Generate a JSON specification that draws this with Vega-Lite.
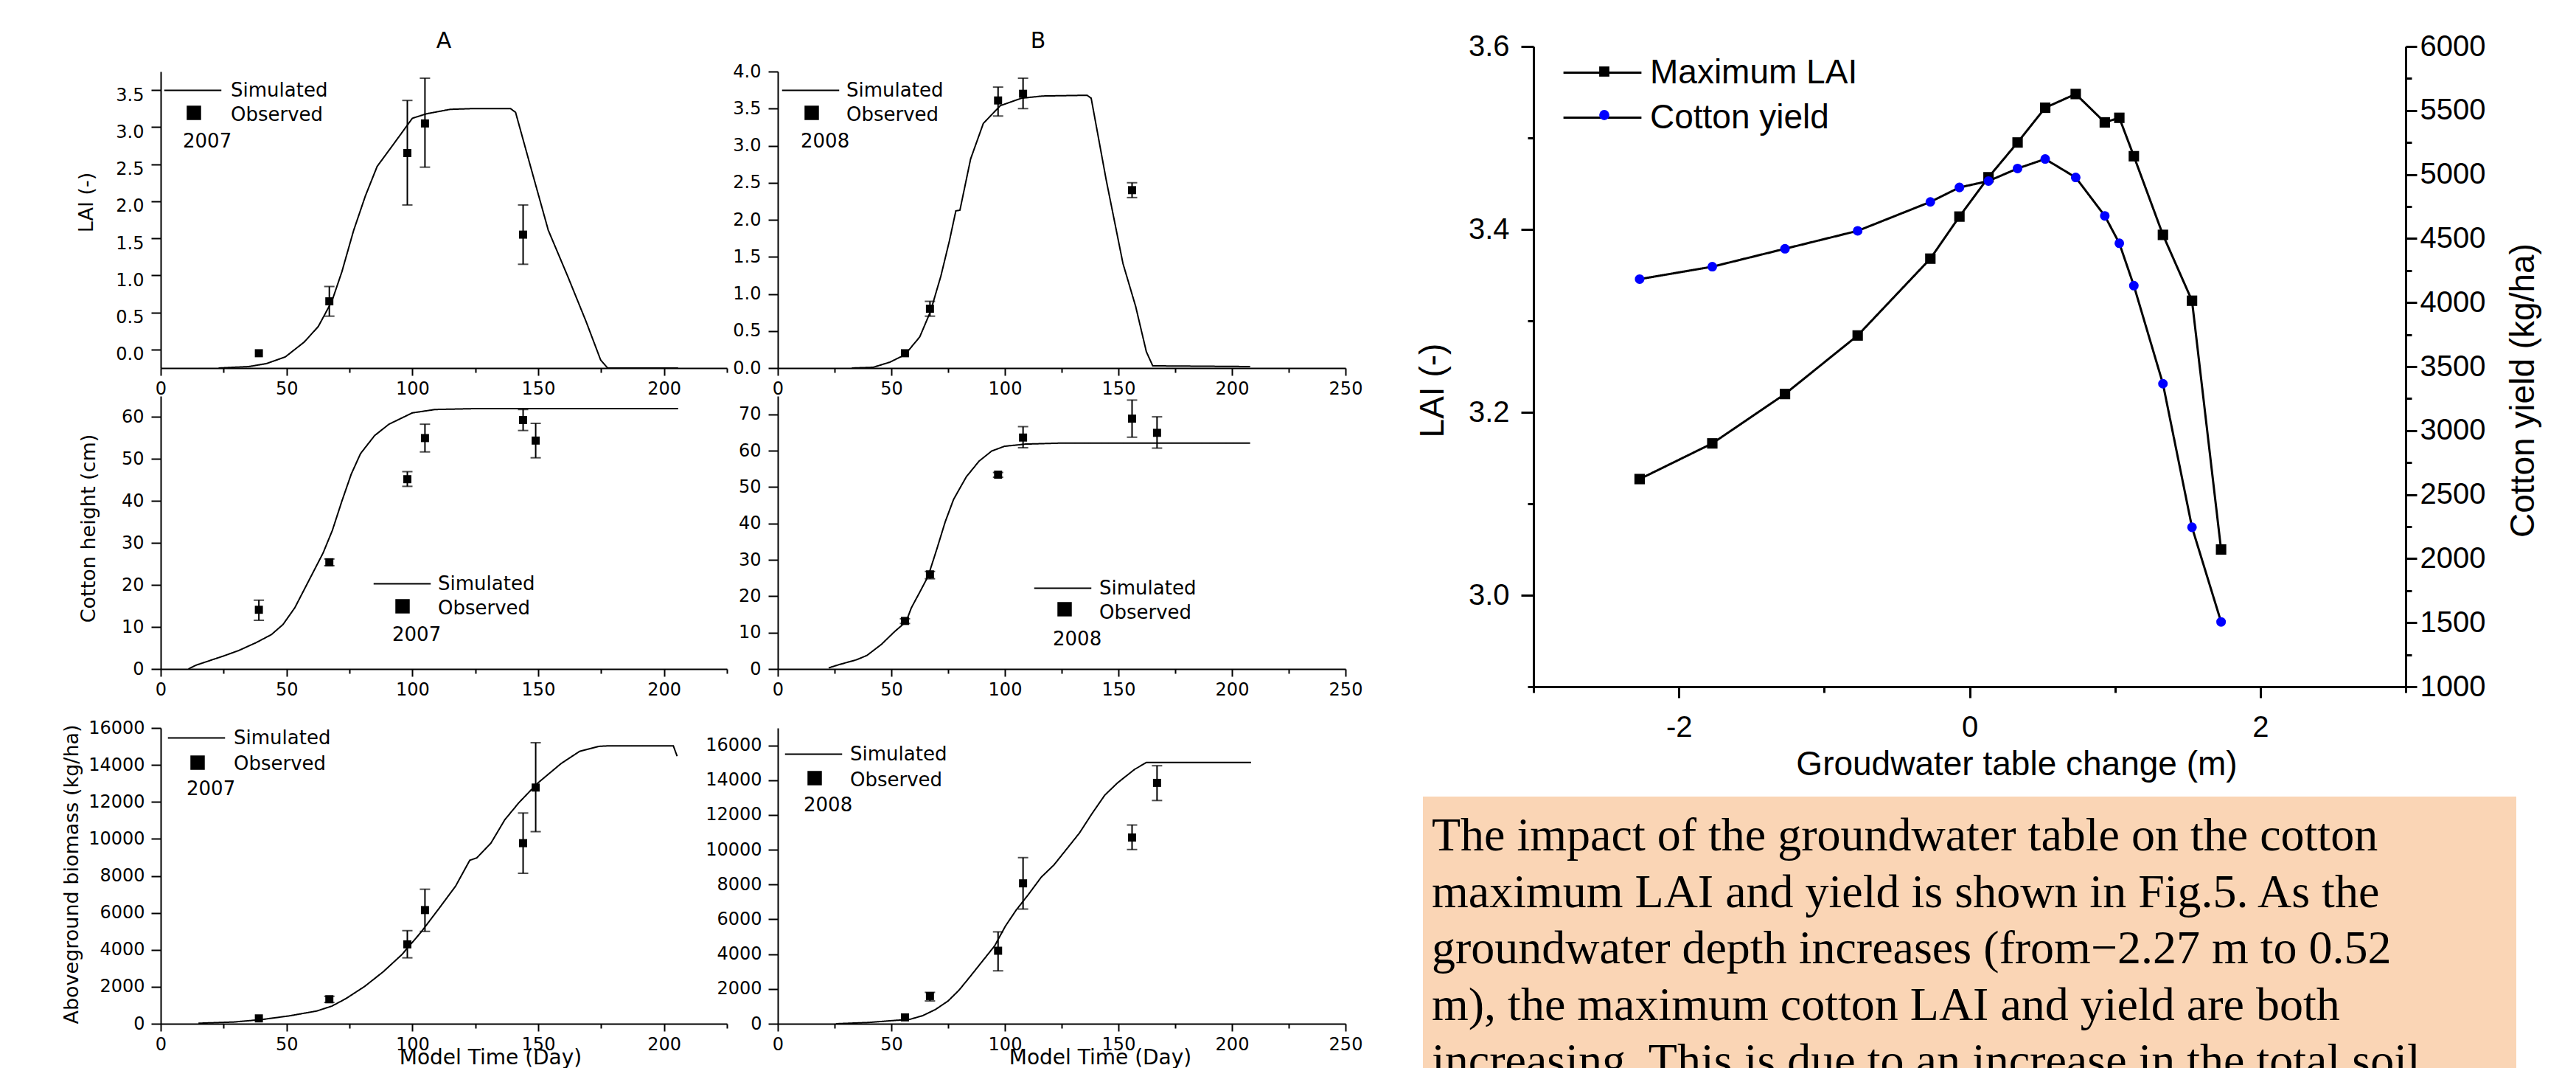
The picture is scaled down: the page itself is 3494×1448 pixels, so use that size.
{
"$schema": "https://vega.github.io/schema/vega-lite/v6.json",
"background": "white",
"padding": {"left": 82, "top": 41, "right": 10, "bottom": 0},
"config": {
 "view": {"stroke": null},
 "axis": {"grid": false, "domainColor": "black", "domainWidth": 2, "tickColor": "black", "tickWidth": 2, "labelColor": "black", "titleColor": "black", "labelFont": "DejaVu Sans", "titleFont": "DejaVu Sans", "labelFontSize": 24, "titleFontSize": 27, "titleFontWeight": "normal", "labelOverlap": false, "labelFlush": false, "labelBound": false},
 "legend": {"labelFont": "DejaVu Sans", "titleFont": "DejaVu Sans", "labelColor": "black", "titleColor": "black", "titleFontWeight": "normal", "labelFontSize": 26, "titleFontSize": 26, "labelLimit": 1000},
 "title": {"font": "DejaVu Sans", "fontSize": 30, "fontWeight": "normal", "color": "black"}
},
"datasets": {
 "a1s": [{"d":23,"v":-0.25},{"d":35,"v":-0.23},{"d":42,"v":-0.19},{"d":49.5,"v":-0.1},{"d":57,"v":0.1},{"d":62.6,"v":0.31},{"d":68,"v":0.65},{"d":72,"v":1.05},{"d":76.6,"v":1.6},{"d":81.3,"v":2.07},{"d":86,"v":2.47},{"d":92.5,"v":2.77},{"d":100,"v":3.12},{"d":105.6,"v":3.18},{"d":115,"v":3.24},{"d":124,"v":3.25},{"d":139,"v":3.25},{"d":141,"v":3.2},{"d":146.7,"v":2.5},{"d":154,"v":1.61},{"d":161.7,"v":0.99},{"d":169,"v":0.38},{"d":174.8,"v":-0.14},{"d":177.6,"v":-0.25},{"d":205.6,"v":-0.25}],
 "a1o": [{"d":39,"v":-0.05},{"d":67,"v":0.65,"lo":0.45,"hi":0.85},{"d":98,"v":2.65,"lo":1.95,"hi":3.36},{"d":105,"v":3.05,"lo":2.46,"hi":3.66},{"d":144,"v":1.55,"lo":1.15,"hi":1.95}],
 "b1s": [{"d":32.6,"v":0},{"d":42,"v":0.01},{"d":49.4,"v":0.08},{"d":56,"v":0.18},{"d":62.5,"v":0.42},{"d":67.2,"v":0.76},{"d":71.8,"v":1.24},{"d":75.6,"v":1.72},{"d":78.4,"v":2.12},{"d":80.2,"v":2.13},{"d":84.9,"v":2.82},{"d":90.5,"v":3.3},{"d":98,"v":3.54},{"d":107.3,"v":3.64},{"d":116.6,"v":3.67},{"d":136.2,"v":3.68},{"d":138,"v":3.64},{"d":144.6,"v":2.54},{"d":152,"v":1.41},{"d":157.6,"v":0.83},{"d":162.3,"v":0.22},{"d":165.1,"v":0.03},{"d":208,"v":0.02}],
 "b1o": [{"d":56,"v":0.2},{"d":67,"v":0.8,"lo":0.7,"hi":0.9},{"d":97,"v":3.61,"lo":3.4,"hi":3.79},{"d":108,"v":3.7,"lo":3.5,"hi":3.91},{"d":156,"v":2.4,"lo":2.3,"hi":2.5}],
 "a2s": [{"d":11,"v":0},{"d":14,"v":0.9},{"d":25,"v":3.1},{"d":31,"v":4.4},{"d":38,"v":6.3},{"d":44,"v":8.2},{"d":48.6,"v":10.6},{"d":53.3,"v":14.6},{"d":58.9,"v":21.1},{"d":64.5,"v":27.6},{"d":68.2,"v":33},{"d":72,"v":40},{"d":75.7,"v":46.4},{"d":79.4,"v":51.3},{"d":85,"v":55.6},{"d":90.7,"v":58.3},{"d":100,"v":61},{"d":109,"v":61.8},{"d":124,"v":62},{"d":205.6,"v":62}],
 "a2o": [{"d":39,"v":14.1,"lo":11.6,"hi":16.4},{"d":67,"v":25.4,"lo":24.6,"hi":26.2},{"d":98,"v":45.2,"lo":43.5,"hi":47},{"d":105,"v":55,"lo":51.7,"hi":58.3},{"d":144,"v":59.3,"lo":56.8,"hi":61.8},{"d":149,"v":54.4,"lo":50.3,"hi":58.5}],
 "b2s": [{"d":22.4,"v":0.3},{"d":27,"v":1.2},{"d":34.5,"v":2.5},{"d":39.2,"v":3.7},{"d":45.7,"v":6.8},{"d":51.3,"v":10.2},{"d":56.5,"v":13},{"d":58.8,"v":16.8},{"d":62.5,"v":21.1},{"d":66.2,"v":25.5},{"d":70,"v":32.9},{"d":73.7,"v":40.4},{"d":77.4,"v":46.6},{"d":83,"v":52.8},{"d":88.6,"v":57.1},{"d":94.2,"v":59.9},{"d":99.8,"v":61.2},{"d":109,"v":61.8},{"d":126,"v":62.1},{"d":208,"v":62.1}],
 "b2o": [{"d":56,"v":13.2,"lo":12.5,"hi":13.8},{"d":67,"v":26,"lo":24.8,"hi":26.8},{"d":97,"v":53.4,"lo":52.7,"hi":54},{"d":108,"v":63.6,"lo":60.8,"hi":66.6},{"d":156,"v":68.8,"lo":63.7,"hi":73.9},{"d":167,"v":64.9,"lo":60.7,"hi":69.3}],
 "a3s": [{"d":15,"v":27},{"d":29,"v":93},{"d":40,"v":225},{"d":51,"v":424},{"d":62,"v":689},{"d":68,"v":954},{"d":73.5,"v":1352},{"d":81,"v":2015},{"d":88.4,"v":2810},{"d":95.8,"v":3738},{"d":103.3,"v":4931},{"d":110.7,"v":6257},{"d":117.2,"v":7450},{"d":122.8,"v":8841},{"d":125.6,"v":8974},{"d":131.2,"v":9769},{"d":136.7,"v":11029},{"d":142.3,"v":11956},{"d":149.8,"v":13017},{"d":159.1,"v":14077},{"d":166.5,"v":14740},{"d":174,"v":15005},{"d":177.7,"v":15032},{"d":203.7,"v":15032},{"d":205.2,"v":14475}],
 "a3o": [{"d":39,"v":290},{"d":67,"v":1326,"lo":1153,"hi":1485},{"d":98,"v":4295,"lo":3566,"hi":5037},{"d":105,"v":6150,"lo":4997,"hi":7277},{"d":144,"v":9769,"lo":8139,"hi":11400},{"d":149,"v":12778,"lo":10392,"hi":15204}],
 "b3s": [{"d":25.6,"v":0},{"d":39.6,"v":70},{"d":50.7,"v":183},{"d":58.2,"v":254},{"d":63.8,"v":465},{"d":69.4,"v":817},{"d":75,"v":1310},{"d":79.7,"v":1915},{"d":84.3,"v":2648},{"d":89.9,"v":3563},{"d":95.5,"v":4479},{"d":100.2,"v":5606},{"d":104.9,"v":6521},{"d":110.4,"v":7437},{"d":116,"v":8423},{"d":121.6,"v":9127},{"d":127.2,"v":10042},{"d":132.8,"v":10958},{"d":138.4,"v":12085},{"d":144,"v":13141},{"d":149.6,"v":13845},{"d":157.1,"v":14620},{"d":162.3,"v":15014},{"d":208.4,"v":15014}],
 "b3o": [{"d":56,"v":366},{"d":67,"v":1592,"lo":1310,"hi":1803},{"d":97,"v":4197,"lo":3042,"hi":5282},{"d":108,"v":8070,"lo":6592,"hi":9549},{"d":156,"v":10704,"lo":10014,"hi":11423},{"d":167,"v":13845,"lo":12831,"hi":14831}],
 "gw": [{"g":-2.27,"lai":3.127,"yield":4183},{"g":-1.77,"lai":3.166,"yield":4280},{"g":-1.27,"lai":3.22,"yield":4420},{"g":-0.77,"lai":3.284,"yield":4560},{"g":-0.27,"lai":3.368,"yield":4786},{"g":-0.07,"lai":3.414,"yield":4899},{"g":0.13,"lai":3.457,"yield":4949},{"g":0.33,"lai":3.495,"yield":5047},{"g":0.52,"lai":3.533,"yield":5121},{"g":0.73,"lai":3.548,"yield":4977},{"g":0.93,"lai":3.517,"yield":4677},{"g":1.03,"lai":3.522,"yield":4463},{"g":1.13,"lai":3.48,"yield":4132},{"g":1.33,"lai":3.394,"yield":3366},{"g":1.53,"lai":3.322,"yield":2245},{"g":1.73,"lai":3.05,"yield":1506}],
 "para": [{"line":1,"text":"The impact of the groundwater table on the cotton"},{"line":2,"text":"\u00a0\u00a0\u00a0\u00a0\u2009maximum LAI and yield is shown in Fig.5. As the"},{"line":3,"text":"\u00a0\u00a0\u00a0\u00a0\u2009groundwater depth increases (from\u22122.27 m to 0.52"},{"line":4,"text":"\u00a0\u00a0\u00a0\u00a0\u2009m), the maximum cotton LAI and yield are both"},{"line":5,"text":"\u00a0\u00a0\u00a0\u00a0\u2009increasing. This is due to an increase in the total soil"}]
},
"hconcat": [
 {"vconcat": [
   {"hconcat": [
     {"width": 768, "height": 34, "data": {"values": []}, "mark": "point", "encoding": {}, "title": {"text": "A", "frame": "group", "font": "DejaVu Sans", "fontSize": 30, "fontWeight": "normal", "color": "black", "dy": 12}},
     {"width": 770, "height": 34, "data": {"values": []}, "mark": "point", "encoding": {}, "title": {"text": "B", "frame": "group", "font": "DejaVu Sans", "fontSize": 30, "fontWeight": "normal", "color": "black", "dy": 12, "dx": -32}}
   ], "spacing": 69, "bounds": "flush"},
   {"vconcat": [
     {"concat": [
       {"width": 768, "height": 402, "layer": [
         {"data": {"name": "a1s"}, "mark": {"type": "line", "color": "black", "strokeWidth": 2},
          "encoding": {
           "x": {"field": "d", "type": "quantitative", "scale": {"domain": [0, 225], "nice": false}, "axis": {"values": [0,25,50,75,100,125,150,175,200,225], "labelExpr": "datum.value % 50 === 0 ? datum.label : ''", "tickSize": {"condition": {"test": "datum.value % 50 === 0", "value": 10}, "value": 6}, "labelPadding": 6, "title": null}},
           "y": {"field": "v", "type": "quantitative", "scale": {"domain": [-0.25, 3.75], "nice": false, "zero": false}, "axis": {"values": [0,0.25,0.5,0.75,1,1.25,1.5,1.75,2,2.25,2.5,2.75,3,3.25,3.5,3.75], "labelExpr": "abs(datum.value*2 - round(datum.value*2)) < 0.001 ? format(datum.value, '.1f') : ''", "tickSize": {"condition": {"test": "abs(datum.value*2 - round(datum.value*2)) < 0.001", "value": 13}, "value": 8}, "labelPadding": 10, "labelOffset": 7, "title": "LAI (-)", "titleX": -101, "titleY": 177, "titleBaseline": "middle"}},
           "strokeDash": {"datum": "Simulated", "scale": {"domain": ["Simulated", "Observed"], "range": [[1,0],[0,100]]}, "legend": {"orient": "none", "legendX": 30, "legendY": 12, "title": "2007", "titleOrient": "bottom", "titleAnchor": "start", "titlePadding": 10, "symbolType": "M-3.1,0H3.1", "symbolSize": 625, "symbolStrokeWidth": 2, "symbolStrokeColor": "black", "symbolFillColor": "transparent", "labelOffset": 38, "rowPadding": 6, "padding": 0}}
          }},
         {"data": {"name": "a1o"}, "mark": {"type": "rule", "color": "black", "strokeWidth": 2}, "encoding": {"x": {"field": "d", "type": "quantitative"}, "y": {"field": "lo", "type": "quantitative"}, "y2": {"field": "hi"}}},
         {"data": {"name": "a1o"}, "mark": {"type": "tick", "orient": "horizontal", "color": "black", "size": 14, "thickness": 2}, "encoding": {"x": {"field": "d", "type": "quantitative"}, "y": {"field": "lo", "type": "quantitative"}}},
         {"data": {"name": "a1o"}, "mark": {"type": "tick", "orient": "horizontal", "color": "black", "size": 14, "thickness": 2}, "encoding": {"x": {"field": "d", "type": "quantitative"}, "y": {"field": "hi", "type": "quantitative"}}},
         {"data": {"name": "a1o"}, "mark": {"type": "point", "filled": true, "color": "black", "size": 120, "opacity": 1},
          "encoding": {"x": {"field": "d", "type": "quantitative"}, "y": {"field": "v", "type": "quantitative"},
           "shape": {"datum": "Observed", "scale": {"range": ["square"]}, "legend": {"orient": "none", "legendX": 32, "legendY": 43, "title": null, "symbolSize": 380, "symbolFillColor": "black", "symbolStrokeWidth": 0, "labelOpacity": 0, "padding": 0}}}}
       ]},
       {"width": 770, "height": 402, "layer": [
         {"data": {"name": "b1s"}, "mark": {"type": "line", "color": "black", "strokeWidth": 2},
          "encoding": {
           "x": {"field": "d", "type": "quantitative", "scale": {"domain": [0, 250], "nice": false}, "axis": {"values": [0,25,50,75,100,125,150,175,200,225,250], "labelExpr": "datum.value % 50 === 0 ? datum.label : ''", "tickSize": {"condition": {"test": "datum.value % 50 === 0", "value": 10}, "value": 6}, "labelPadding": 6, "title": null}},
           "y": {"field": "v", "type": "quantitative", "scale": {"domain": [0, 4], "nice": false}, "axis": {"values": [0,0.25,0.5,0.75,1,1.25,1.5,1.75,2,2.25,2.5,2.75,3,3.25,3.5,3.75,4], "labelExpr": "abs(datum.value*2 - round(datum.value*2)) < 0.001 ? format(datum.value, '.1f') : ''", "tickSize": {"condition": {"test": "abs(datum.value*2 - round(datum.value*2)) < 0.001", "value": 13}, "value": 8}, "labelPadding": 10, "title": null}},
           "strokeDash": {"datum": "Simulated", "scale": {"domain": ["Simulated", "Observed"], "range": [[1,0],[0,100]]}, "legend": {"orient": "none", "legendX": 31, "legendY": 12, "title": "2008", "titleOrient": "bottom", "titleAnchor": "start", "titlePadding": 10, "symbolType": "M-3.1,0H3.1", "symbolSize": 625, "symbolStrokeWidth": 2, "symbolStrokeColor": "black", "symbolFillColor": "transparent", "labelOffset": 35, "rowPadding": 6, "padding": 0}}
          }},
         {"data": {"name": "b1o"}, "mark": {"type": "rule", "color": "black", "strokeWidth": 2}, "encoding": {"x": {"field": "d", "type": "quantitative"}, "y": {"field": "lo", "type": "quantitative"}, "y2": {"field": "hi"}}},
         {"data": {"name": "b1o"}, "mark": {"type": "tick", "orient": "horizontal", "color": "black", "size": 14, "thickness": 2}, "encoding": {"x": {"field": "d", "type": "quantitative"}, "y": {"field": "lo", "type": "quantitative"}}},
         {"data": {"name": "b1o"}, "mark": {"type": "tick", "orient": "horizontal", "color": "black", "size": 14, "thickness": 2}, "encoding": {"x": {"field": "d", "type": "quantitative"}, "y": {"field": "hi", "type": "quantitative"}}},
         {"data": {"name": "b1o"}, "mark": {"type": "point", "filled": true, "color": "black", "size": 120, "opacity": 1},
          "encoding": {"x": {"field": "d", "type": "quantitative"}, "y": {"field": "v", "type": "quantitative"},
           "shape": {"datum": "Observed", "scale": {"range": ["square"]}, "legend": {"orient": "none", "legendX": 33, "legendY": 43, "title": null, "symbolSize": 380, "symbolFillColor": "black", "symbolStrokeWidth": 0, "labelOpacity": 0, "padding": 0}}}}
       ]},
       {"width": 768, "height": 370, "layer": [
         {"data": {"name": "a2s"}, "mark": {"type": "line", "color": "black", "strokeWidth": 2},
          "encoding": {
           "x": {"field": "d", "type": "quantitative", "scale": {"domain": [0, 225], "nice": false}, "axis": {"values": [0,25,50,75,100,125,150,175,200,225], "labelExpr": "datum.value % 50 === 0 ? datum.label : ''", "tickSize": {"condition": {"test": "datum.value % 50 === 0", "value": 10}, "value": 6}, "labelPadding": 6, "title": null}},
           "y": {"field": "v", "type": "quantitative", "scale": {"domain": [0, 65], "nice": false}, "axis": {"values": [0,5,10,15,20,25,30,35,40,45,50,55,60,65], "labelExpr": "datum.value % 10 === 0 ? datum.label : ''", "tickSize": {"condition": {"test": "datum.value % 10 === 0", "value": 13}, "value": 8}, "labelPadding": 10, "title": "Cotton height (cm)", "titleX": -98, "titleY": 179, "titleBaseline": "middle"}},
           "strokeDash": {"datum": "Simulated", "scale": {"domain": ["Simulated", "Observed"], "range": [[1,0],[0,100]]}, "legend": {"orient": "none", "legendX": 314, "legendY": 241, "title": "2007", "titleOrient": "bottom", "titleAnchor": "start", "titlePadding": 10, "symbolType": "M-3.1,0H3.1", "symbolSize": 625, "symbolStrokeWidth": 2, "symbolStrokeColor": "black", "symbolFillColor": "transparent", "labelOffset": 35, "rowPadding": 6, "padding": 0}}
          }},
         {"data": {"name": "a2o"}, "mark": {"type": "rule", "color": "black", "strokeWidth": 2}, "encoding": {"x": {"field": "d", "type": "quantitative"}, "y": {"field": "lo", "type": "quantitative"}, "y2": {"field": "hi"}}},
         {"data": {"name": "a2o"}, "mark": {"type": "tick", "orient": "horizontal", "color": "black", "size": 14, "thickness": 2}, "encoding": {"x": {"field": "d", "type": "quantitative"}, "y": {"field": "lo", "type": "quantitative"}}},
         {"data": {"name": "a2o"}, "mark": {"type": "tick", "orient": "horizontal", "color": "black", "size": 14, "thickness": 2}, "encoding": {"x": {"field": "d", "type": "quantitative"}, "y": {"field": "hi", "type": "quantitative"}}},
         {"data": {"name": "a2o"}, "mark": {"type": "point", "filled": true, "color": "black", "size": 120, "opacity": 1},
          "encoding": {"x": {"field": "d", "type": "quantitative"}, "y": {"field": "v", "type": "quantitative"},
           "shape": {"datum": "Observed", "scale": {"range": ["square"]}, "legend": {"orient": "none", "legendX": 315, "legendY": 272, "title": null, "symbolSize": 380, "symbolFillColor": "black", "symbolStrokeWidth": 0, "labelOpacity": 0, "padding": 0}}}}
       ]},
       {"width": 770, "height": 370, "layer": [
         {"data": {"name": "b2s"}, "mark": {"type": "line", "color": "black", "strokeWidth": 2},
          "encoding": {
           "x": {"field": "d", "type": "quantitative", "scale": {"domain": [0, 250], "nice": false}, "axis": {"values": [0,25,50,75,100,125,150,175,200,225,250], "labelExpr": "datum.value % 50 === 0 ? datum.label : ''", "tickSize": {"condition": {"test": "datum.value % 50 === 0", "value": 10}, "value": 6}, "labelPadding": 6, "title": null}},
           "y": {"field": "v", "type": "quantitative", "scale": {"domain": [0, 75], "nice": false}, "axis": {"values": [0,5,10,15,20,25,30,35,40,45,50,55,60,65,70,75], "labelExpr": "datum.value % 10 === 0 ? datum.label : ''", "tickSize": {"condition": {"test": "datum.value % 10 === 0", "value": 13}, "value": 8}, "labelPadding": 10, "title": null}},
           "strokeDash": {"datum": "Simulated", "scale": {"domain": ["Simulated", "Observed"], "range": [[1,0],[0,100]]}, "legend": {"orient": "none", "legendX": 373, "legendY": 247, "title": "2008", "titleOrient": "bottom", "titleAnchor": "start", "titlePadding": 10, "symbolType": "M-3.1,0H3.1", "symbolSize": 625, "symbolStrokeWidth": 2, "symbolStrokeColor": "black", "symbolFillColor": "transparent", "labelOffset": 36, "rowPadding": 6, "padding": 0}}
          }},
         {"data": {"name": "b2o"}, "mark": {"type": "rule", "color": "black", "strokeWidth": 2}, "encoding": {"x": {"field": "d", "type": "quantitative"}, "y": {"field": "lo", "type": "quantitative"}, "y2": {"field": "hi"}}},
         {"data": {"name": "b2o"}, "mark": {"type": "tick", "orient": "horizontal", "color": "black", "size": 14, "thickness": 2}, "encoding": {"x": {"field": "d", "type": "quantitative"}, "y": {"field": "lo", "type": "quantitative"}}},
         {"data": {"name": "b2o"}, "mark": {"type": "tick", "orient": "horizontal", "color": "black", "size": 14, "thickness": 2}, "encoding": {"x": {"field": "d", "type": "quantitative"}, "y": {"field": "hi", "type": "quantitative"}}},
         {"data": {"name": "b2o"}, "mark": {"type": "point", "filled": true, "color": "black", "size": 120, "opacity": 1},
          "encoding": {"x": {"field": "d", "type": "quantitative"}, "y": {"field": "v", "type": "quantitative"},
           "shape": {"datum": "Observed", "scale": {"range": ["square"]}, "legend": {"orient": "none", "legendX": 376, "legendY": 276, "title": null, "symbolSize": 380, "symbolFillColor": "black", "symbolStrokeWidth": 0, "labelOpacity": 0, "padding": 0}}}}
       ]}
     ], "columns": 2, "spacing": {"row": 38, "column": 69}, "bounds": "flush", "resolve": {"scale": {"strokeDash": "independent", "shape": "independent", "color": "independent"}}},
     {"hconcat": [
       {"width": 768, "height": 401, "layer": [
         {"data": {"name": "a3s"}, "mark": {"type": "line", "color": "black", "strokeWidth": 2},
          "encoding": {
           "x": {"field": "d", "type": "quantitative", "scale": {"domain": [0, 225], "nice": false}, "axis": {"values": [0,25,50,75,100,125,150,175,200,225], "labelExpr": "datum.value % 50 === 0 ? datum.label : ''", "tickSize": {"condition": {"test": "datum.value % 50 === 0", "value": 10}, "value": 6}, "labelPadding": 6, "title": "Model Time (Day)", "titleFontSize": 28, "titleX": 447, "titleY": 46, "titleBaseline": "middle"}},
           "y": {"field": "v", "type": "quantitative", "scale": {"domain": [0, 16000], "nice": false}, "axis": {"values": [0,1000,2000,3000,4000,5000,6000,7000,8000,9000,10000,11000,12000,13000,14000,15000,16000], "format": "d", "labelExpr": "datum.value % 2000 === 0 ? datum.label : ''", "tickSize": {"condition": {"test": "datum.value % 2000 === 0", "value": 13}, "value": 8}, "labelPadding": 9, "title": "Aboveground biomass (kg/ha)", "titleX": -121, "titleY": 198, "titleBaseline": "middle"}},
           "strokeDash": {"datum": "Simulated", "scale": {"domain": ["Simulated", "Observed"], "range": [[1,0],[0,100]]}, "legend": {"orient": "none", "legendX": 35, "legendY": 0, "title": "2007", "titleOrient": "bottom", "titleAnchor": "start", "titlePadding": 8, "symbolType": "M-3.1,0H3.1", "symbolSize": 625, "symbolStrokeWidth": 2, "symbolStrokeColor": "black", "symbolFillColor": "transparent", "labelOffset": 37, "rowPadding": 8, "padding": 0}}
          }},
         {"data": {"name": "a3o"}, "mark": {"type": "rule", "color": "black", "strokeWidth": 2}, "encoding": {"x": {"field": "d", "type": "quantitative"}, "y": {"field": "lo", "type": "quantitative"}, "y2": {"field": "hi"}}},
         {"data": {"name": "a3o"}, "mark": {"type": "tick", "orient": "horizontal", "color": "black", "size": 14, "thickness": 2}, "encoding": {"x": {"field": "d", "type": "quantitative"}, "y": {"field": "lo", "type": "quantitative"}}},
         {"data": {"name": "a3o"}, "mark": {"type": "tick", "orient": "horizontal", "color": "black", "size": 14, "thickness": 2}, "encoding": {"x": {"field": "d", "type": "quantitative"}, "y": {"field": "hi", "type": "quantitative"}}},
         {"data": {"name": "a3o"}, "mark": {"type": "point", "filled": true, "color": "black", "size": 120, "opacity": 1},
          "encoding": {"x": {"field": "d", "type": "quantitative"}, "y": {"field": "v", "type": "quantitative"},
           "shape": {"datum": "Observed", "scale": {"range": ["square"]}, "legend": {"orient": "none", "legendX": 37, "legendY": 34, "title": null, "symbolSize": 380, "symbolFillColor": "black", "symbolStrokeWidth": 0, "labelOpacity": 0, "padding": 0}}}}
       ]},
       {"width": 770, "height": 401, "layer": [
         {"data": {"name": "b3s"}, "mark": {"type": "line", "color": "black", "strokeWidth": 2},
          "encoding": {
           "x": {"field": "d", "type": "quantitative", "scale": {"domain": [0, 250], "nice": false}, "axis": {"values": [0,25,50,75,100,125,150,175,200,225,250], "labelExpr": "datum.value % 50 === 0 ? datum.label : ''", "tickSize": {"condition": {"test": "datum.value % 50 === 0", "value": 10}, "value": 6}, "labelPadding": 6, "title": "Model Time (Day)", "titleFontSize": 28, "titleX": 437, "titleY": 46, "titleBaseline": "middle"}},
           "y": {"field": "v", "type": "quantitative", "scale": {"domain": [0, 17000], "nice": false}, "axis": {"values": [0,1000,2000,3000,4000,5000,6000,7000,8000,9000,10000,11000,12000,13000,14000,15000,16000,17000], "format": "d", "labelExpr": "datum.value % 2000 === 0 ? datum.label : ''", "tickSize": {"condition": {"test": "datum.value % 2000 === 0", "value": 13}, "value": 8}, "labelPadding": 9, "title": null}},
           "strokeDash": {"datum": "Simulated", "scale": {"domain": ["Simulated", "Observed"], "range": [[1,0],[0,100]]}, "legend": {"orient": "none", "legendX": 35, "legendY": 22, "title": "2008", "titleOrient": "bottom", "titleAnchor": "start", "titlePadding": 8, "symbolType": "M-3.1,0H3.1", "symbolSize": 625, "symbolStrokeWidth": 2, "symbolStrokeColor": "black", "symbolFillColor": "transparent", "labelOffset": 36, "rowPadding": 8, "padding": 0}}
          }},
         {"data": {"name": "b3o"}, "mark": {"type": "rule", "color": "black", "strokeWidth": 2}, "encoding": {"x": {"field": "d", "type": "quantitative"}, "y": {"field": "lo", "type": "quantitative"}, "y2": {"field": "hi"}}},
         {"data": {"name": "b3o"}, "mark": {"type": "tick", "orient": "horizontal", "color": "black", "size": 14, "thickness": 2}, "encoding": {"x": {"field": "d", "type": "quantitative"}, "y": {"field": "lo", "type": "quantitative"}}},
         {"data": {"name": "b3o"}, "mark": {"type": "tick", "orient": "horizontal", "color": "black", "size": 14, "thickness": 2}, "encoding": {"x": {"field": "d", "type": "quantitative"}, "y": {"field": "hi", "type": "quantitative"}}},
         {"data": {"name": "b3o"}, "mark": {"type": "point", "filled": true, "color": "black", "size": 120, "opacity": 1},
          "encoding": {"x": {"field": "d", "type": "quantitative"}, "y": {"field": "v", "type": "quantitative"},
           "shape": {"datum": "Observed", "scale": {"range": ["square"]}, "legend": {"orient": "none", "legendX": 37, "legendY": 55, "title": null, "symbolSize": 380, "symbolFillColor": "black", "symbolStrokeWidth": 0, "labelOpacity": 0, "padding": 0}}}}
       ]}
     ], "spacing": 69, "bounds": "flush", "resolve": {"scale": {"strokeDash": "independent", "shape": "independent", "color": "independent"}}}
   ], "spacing": 890, "bounds": "flush", "resolve": {"scale": {"strokeDash": "independent", "shape": "independent", "color": "independent"}}}
 ], "spacing": 34, "bounds": "flush", "resolve": {"scale": {"strokeDash": "independent", "shape": "independent", "color": "independent"}}},
 {"vconcat": [
   {"width": 1183, "height": 868, "data": {"name": "gw"},
    "layer": [
     {"layer": [
       {"mark": {"type": "line", "color": "black", "strokeWidth": 3},
        "encoding": {
         "x": {"field": "g", "type": "quantitative", "scale": {"domain": [-3, 3], "nice": false}, "axis": {"values": [-3,-2,-1,0,1,2,3], "format": "d", "labelExpr": "datum.value % 2 === 0 ? replace(datum.label, '\u2212', '-') : ''", "tickSize": {"condition": {"test": "datum.value % 2 === 0", "value": 15}, "value": 8}, "labelPadding": 20, "labelFont": "Liberation Sans", "labelFontSize": 40, "domainWidth": 3, "tickWidth": 3, "title": "Groudwater table change (m)", "titleFont": "Liberation Sans", "titleFontSize": 46, "titleX": 655, "titleY": 105, "titleBaseline": "middle"}},
         "y": {"field": "lai", "type": "quantitative", "scale": {"domain": [2.9, 3.6], "nice": false, "zero": false}, "axis": {"orient": "left", "values": [2.9,3.0,3.1,3.2,3.3,3.4,3.5,3.6], "labelExpr": "abs(datum.value*5 - round(datum.value*5)) < 0.001 ? format(datum.value, '.1f') : ''", "tickSize": {"condition": {"test": "abs(datum.value*5 - round(datum.value*5)) < 0.001", "value": 17}, "value": 8}, "labelPadding": 16, "labelFont": "Liberation Sans", "labelFontSize": 40, "domainWidth": 3, "tickWidth": 3, "title": "LAI (-)", "titleFont": "Liberation Sans", "titleFontSize": 46, "titleX": -137, "titleY": 466, "titleBaseline": "middle"}},
         "strokeDash": {"datum": "Maximum LAI", "scale": {"domain": ["Maximum LAI", "Cotton yield"], "range": [[1,0],[1,0]]}, "legend": {"orient": "none", "legendX": 69, "legendY": 11, "title": null, "symbolType": "M-2.3,0H2.3", "symbolSize": 2116, "symbolStrokeWidth": 3, "symbolStrokeColor": "black", "symbolFillColor": "transparent", "labelFont": "Liberation Sans", "labelFontSize": 46, "labelOffset": 40, "rowPadding": 13, "padding": 0}}
        }},
       {"mark": {"type": "point", "filled": true, "size": 200, "opacity": 1},
        "encoding": {
         "x": {"field": "g", "type": "quantitative"},
         "y": {"field": "lai", "type": "quantitative"},
         "shape": {"datum": "LAI marker", "scale": {"domain": ["LAI marker", "Yield marker"], "range": ["square", "circle"]}, "legend": {"orient": "none", "legendX": 73, "legendY": 11, "title": null, "symbolSize": 190, "symbolStrokeWidth": 0, "labelFont": "Liberation Sans", "labelFontSize": 46, "labelOpacity": 0, "rowPadding": 13, "padding": 0}},
         "color": {"datum": "LAI marker", "scale": {"domain": ["LAI marker", "Yield marker"], "range": ["black", "#0000FF"]}, "legend": {"orient": "none", "legendX": 73, "legendY": 11, "title": null, "symbolSize": 190, "symbolStrokeWidth": 0, "labelFont": "Liberation Sans", "labelFontSize": 46, "labelOpacity": 0, "rowPadding": 13, "padding": 0}}
        }}
     ]},
     {"layer": [
       {"mark": {"type": "line", "color": "black", "strokeWidth": 3},
        "encoding": {
         "x": {"field": "g", "type": "quantitative"},
         "y": {"field": "yield", "type": "quantitative", "scale": {"domain": [1000, 6000], "nice": false, "zero": false}, "axis": {"orient": "right", "values": [1000,1250,1500,1750,2000,2250,2500,2750,3000,3250,3500,3750,4000,4250,4500,4750,5000,5250,5500,5750,6000], "format": "d", "labelExpr": "datum.value % 500 === 0 ? datum.label : ''", "tickSize": {"condition": {"test": "datum.value % 500 === 0", "value": 15}, "value": 8}, "labelPadding": 4, "labelFont": "Liberation Sans", "labelFontSize": 40, "domainWidth": 3, "tickWidth": 3, "title": "Cotton yield (kg/ha)", "titleFont": "Liberation Sans", "titleFontSize": 46, "titleAngle": 270, "titleX": 159, "titleY": 466, "titleBaseline": "middle"}},
         "strokeDash": {"datum": "Cotton yield"}
        }},
       {"mark": {"type": "point", "filled": true, "size": 170, "opacity": 1},
        "encoding": {
         "x": {"field": "g", "type": "quantitative"},
         "y": {"field": "yield", "type": "quantitative"},
         "shape": {"datum": "Yield marker"},
         "color": {"datum": "Yield marker"}
        }}
     ]}
    ],
    "resolve": {"scale": {"y": "independent"}}
   },
   {"width": 1483, "height": 370, "view": {"fill": "#FAD5B5", "stroke": null}, "data": {"name": "para"},
    "mark": {"type": "text", "align": "left", "baseline": "alphabetic", "font": "Liberation Serif", "fontSize": 64, "color": "black", "clip": true},
    "encoding": {
     "x": {"datum": 0, "type": "quantitative", "scale": {"domain": [-0.816, 100], "nice": false, "zero": false}, "axis": null},
     "y": {"field": "line", "type": "quantitative", "scale": {"domain": [0.047, 4.877], "reverse": true, "nice": false, "zero": false}, "axis": null},
     "text": {"field": "text"}
    }}
 ], "spacing": 149, "center": true, "bounds": "flush", "resolve": {"scale": {"strokeDash": "independent", "shape": "independent", "color": "independent"}}}
],
"spacing": 1712,
"bounds": "flush",
"resolve": {"scale": {"strokeDash": "independent", "shape": "independent", "color": "independent"}}
}
